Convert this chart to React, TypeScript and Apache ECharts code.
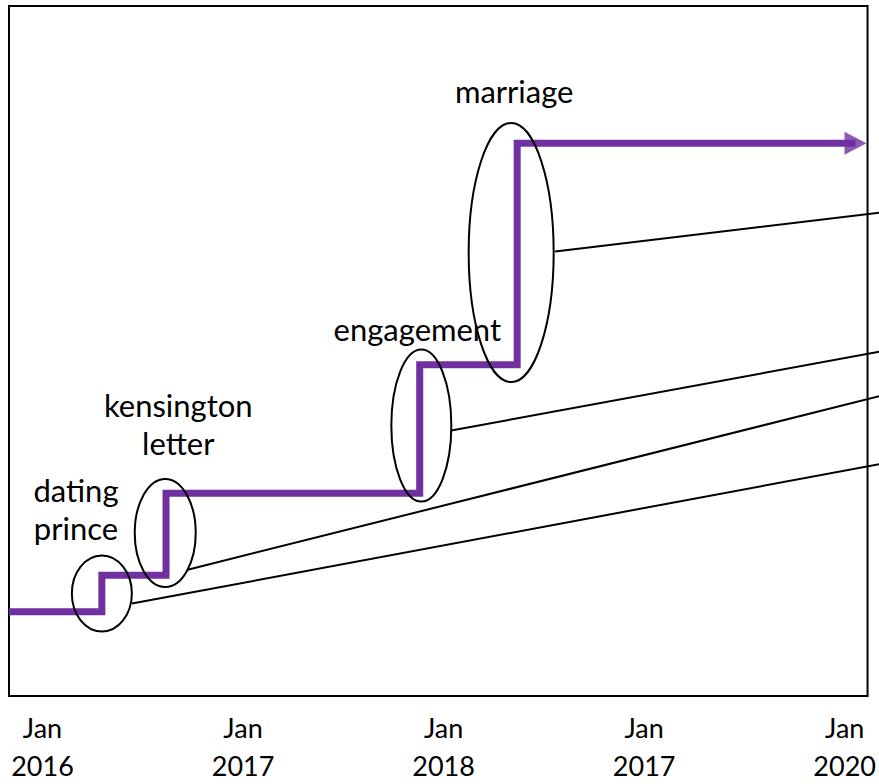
import React, { useEffect, useRef } from "react";
import * as echarts from "echarts";

// Axis ticks (years) and their printed labels (as shown in the source)
const tickYears = [2016, 2017, 2018, 2019, 2020];
const tickLabels = ["Jan\n2016", "Jan\n2017", "Jan\n2018", "Jan\n2017", "Jan\n2020"];

// Step line: date (decimal year) and level
const stepDates = [2015.833, 2016.296, 2016.616, 2017.881, 2018.367, 2020.054];
const stepLevels = [12.2, 17.5, 29.4, 48.0, 80.1, 80.1];

// Events (circled steps)
const eventNames = ["dating\nprince", "kensington\nletter", "engagement", "marriage"];
const eventDates = [2016.296, 2016.612, 2017.889, 2018.337];
const eventLevels = [14.84, 23.63, 39.19, 64.27];
const labelDates = [2016.167, 2016.677, 2017.869, 2018.352];
const labelLevels = [27.16, 39.48, 53.17, 87.75];
const calloutStartDates = [2016.446, 2016.724, 2018.038, 2018.556];
const calloutStartLevels = [13.4, 18.3, 38.47, 64.41];
const calloutEndLevels = [34.29, 44.38, 50.58, 70.49];
const calloutEndDate = 2020.3;

// styling
const PURPLE = "#7030A0";
const ellipseRadii = [
  [30, 38],
  [30.5, 54],
  [30, 76],
  [42.5, 129.5],
];
const FONT = "Lato";

export default function App() {
  const ref = useRef<HTMLDivElement>(null);

  useEffect(() => {
    if (!ref.current) return;
    const chart = echarts.init(ref.current, undefined, { renderer: "svg" });

    const option: any = {
      animation: false,
      backgroundColor: "#fff",
      grid: {
        show: true,
        left: 9,
        right: 10,
        top: 6,
        bottom: 84,
        borderColor: "#000",
        borderWidth: 2,
        containLabel: false,
      },
      xAxis: {
        type: "value",
        min: 2015.833,
        max: 2020.114,
        axisLine: { show: false },
        axisTick: { show: false },
        splitLine: { show: false },
        axisLabel: {
          customValues: tickYears,
          formatter: (v: number) => {
            const idx = tickYears.indexOf(Math.round(v));
            return idx >= 0 ? tickLabels[idx] : "";
          },
          fontFamily: FONT,
          fontSize: 27,
          lineHeight: 38,
          color: "#000",
          margin: 12,
          hideOverlap: false,
        },
      },
      yAxis: {
        type: "value",
        min: 0,
        max: 100,
        show: false,
      },
      series: [
        {
          type: "line",
          step: "end",
          data: stepDates.map((d, i) => [d, stepLevels[i]]),
          showSymbol: false,
          symbol: "none",
          lineStyle: { color: PURPLE, width: 7, cap: "butt", join: "miter" },
          z: 2,
        },
        {
          type: "scatter",
          data: [[stepDates[stepDates.length - 1], stepLevels[stepLevels.length - 1]]],
          symbol: "triangle",
          symbolRotate: -90,
          symbolSize: [23, 22],
          itemStyle: { color: PURPLE },
          z: 2,
        },
        {
          type: "custom",
          clip: false,
          z: 3,
          data: eventDates.map((d, i) => [d, eventLevels[i]]),
          encode: { x: 0, y: 1 },
          renderItem: (params: any, api: any) => {
            const i = params.dataIndex;
            const c = api.coord([eventDates[i], eventLevels[i]]);
            const s = api.coord([calloutStartDates[i], calloutStartLevels[i]]);
            const e = api.coord([calloutEndDate, calloutEndLevels[i]]);
            const t = api.coord([labelDates[i], labelLevels[i]]);
            return {
              type: "group",
              children: [
                {
                  type: "ellipse",
                  shape: { cx: c[0], cy: c[1], rx: ellipseRadii[i][0], ry: ellipseRadii[i][1] },
                  style: { fill: "none", stroke: "#000", lineWidth: 2 },
                },
                {
                  type: "line",
                  shape: { x1: s[0], y1: s[1], x2: e[0], y2: e[1] },
                  style: { stroke: "#000", lineWidth: 2 },
                },
                {
                  type: "text",
                  x: t[0],
                  y: t[1],
                  style: {
                    text: eventNames[i],
                    fontFamily: FONT,
                    fontSize: 31,
                    lineHeight: 38,
                    fill: "#000",
                    align: "center",
                    verticalAlign: "middle",
                  },
                },
              ],
            };
          },
        },
      ],
    };

    chart.setOption(option);
    return () => chart.dispose();
  }, []);

  return (
    <div
      ref={ref}
      style={{ position: "absolute", left: 0, top: 0, width: 879, height: 784, background: "#fff" }}
    />
  );
}
